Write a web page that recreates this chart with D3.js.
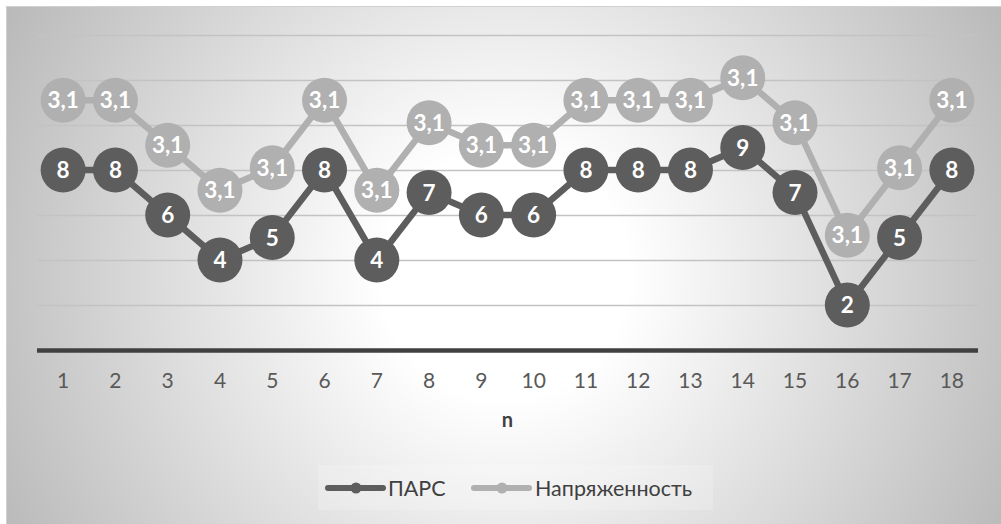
<!DOCTYPE html>
<html>
<head>
<meta charset="utf-8">
<script src="https://cdn.jsdelivr.net/npm/d3@7"></script>
<style>
  html, body { margin: 0; padding: 0; background: #ffffff; }
  svg { display: block; }
  text { font-family: "Lato", "Open Sans", sans-serif; }
</style>
</head>
<body>
<svg id="chart" width="1001" height="524"></svg>
<script>
// Observation number n (category axis)
const categories = ["1","2","3","4","5","6","7","8","9","10","11","12","13","14","15","16","17","18"];

// ПАРС scores (primary axis)
const parsValues = [8, 8, 6, 4, 5, 8, 4, 7, 6, 6, 8, 8, 8, 9, 7, 2, 5, 8];

// Напряженность index (secondary axis, all round to 3,1)
const tensionValues = [3.131, 3.131, 3.111, 3.091, 3.101, 3.131, 3.091, 3.121, 3.111,
                       3.111, 3.131, 3.131, 3.131, 3.141, 3.121, 3.071, 3.101, 3.131];

const seriesNames = ["ПАРС", "Напряженность"];
const primaryTicks = [0, 2, 4, 6, 8, 10, 12, 14];
const secondaryDomain = [3.02, 3.16];
const axisTitle = "n";

const W = 1001, H = 524;
const plot = { left: 37, right: 978, top: 35, bottom: 350 };

const svg = d3.select("#chart");

// Background: radial grey fill with a thin frame
const defs = svg.append("defs");
const grad = defs.append("radialGradient")
  .attr("id", "bgGrad")
  .attr("gradientUnits", "userSpaceOnUse")
  .attr("cx", 505).attr("cy", 275).attr("r", 560);
grad.append("stop").attr("offset", "0.22").attr("stop-color", "#ffffff");
grad.append("stop").attr("offset", "1").attr("stop-color", "#bababa");

svg.append("rect")
  .attr("x", 6.5).attr("y", 6.5)
  .attr("width", W).attr("height", H)
  .attr("fill", "url(#bgGrad)")
  .attr("stroke", "#d0d0d0").attr("stroke-width", 1);

// Scales
const x = d3.scaleBand().domain(categories).range([plot.left, plot.right]).padding(0);
const cx = d => x(d) + x.bandwidth() / 2;
const y = d3.scaleLinear().domain([0, 14]).range([plot.bottom, plot.top]);
const y2 = d3.scaleLinear().domain(secondaryDomain).range([plot.bottom, plot.top]);

// Horizontal gridlines
const grid = svg.append("g")
  .attr("transform", `translate(${plot.left},0)`)
  .call(d3.axisLeft(y).tickValues(primaryTicks.slice(1)).tickSize(-(plot.right - plot.left)).tickFormat(""));
grid.select(".domain").remove();
grid.selectAll(".tick line").attr("stroke", "#c3c3c3").attr("stroke-width", 1.3);

// Category axis
const xAxis = svg.append("g")
  .attr("transform", `translate(0,${plot.bottom})`)
  .call(d3.axisBottom(x).tickSize(0).tickPadding(23));
xAxis.select(".domain").remove();
xAxis.selectAll(".tick text")
  .attr("fill", "#595959")
  .style("font-size", "21px")
  .style("font-family", "Lato, sans-serif");

svg.append("line")
  .attr("x1", plot.left).attr("x2", plot.right)
  .attr("y1", y(0) + 0.5).attr("y2", y(0) + 0.5)
  .attr("stroke", "#404040").attr("stroke-width", 4.5);

svg.append("text")
  .attr("x", (plot.left + plot.right) / 2).attr("y", 427)
  .attr("text-anchor", "middle")
  .attr("fill", "#404040")
  .style("font-size", "20px").style("font-weight", "700")
  .text(axisTitle);

// Series
const fmt = v => d3.format(".1f")(v).replace(".", ",");
const series = [
  { name: seriesNames[0], values: parsValues, scale: y, color: "#5d5d5d", label: v => String(v) },
  { name: seriesNames[1], values: tensionValues, scale: y2, color: "#b0b0b0", label: fmt }
];

const R = 22.5;
series.forEach(s => {
  const pts = s.values.map((v, i) => ({ c: categories[i], v }));
  const line = d3.line().x(d => cx(d.c)).y(d => s.scale(d.v));
  const g = svg.append("g");
  g.append("path")
    .attr("d", line(pts))
    .attr("fill", "none")
    .attr("stroke", s.color)
    .attr("stroke-width", 6.5)
    .attr("stroke-linejoin", "round");
  g.selectAll("circle").data(pts).join("circle")
    .attr("cx", d => cx(d.c)).attr("cy", d => s.scale(d.v))
    .attr("r", R).attr("fill", s.color);
  g.selectAll("text").data(pts).join("text")
    .attr("x", d => cx(d.c)).attr("y", d => s.scale(d.v))
    .attr("dy", "0.36em")
    .attr("text-anchor", "middle")
    .attr("fill", "#ffffff")
    .style("font-size", "22.5px").style("font-weight", "700")
    .text(d => s.label(d.v));
});

// Legend
const legend = svg.append("g");
legend.append("rect")
  .attr("x", 318).attr("y", 465).attr("width", 395).attr("height", 45)
  .attr("fill", "#ffffff").attr("opacity", 0.18);
const legendItems = [
  { name: series[0].name, color: series[0].color, x0: 328, tx: 388 },
  { name: series[1].name, color: series[1].color, x0: 474, tx: 535 }
];
legendItems.forEach(it => {
  legend.append("line")
    .attr("x1", it.x0).attr("x2", it.x0 + 55)
    .attr("y1", 488).attr("y2", 488)
    .attr("stroke", it.color).attr("stroke-width", 6).attr("stroke-linecap", "round");
  legend.append("circle")
    .attr("cx", it.x0 + 28).attr("cy", 488).attr("r", 5.5).attr("fill", it.color);
  legend.append("text")
    .attr("x", it.tx).attr("y", 488).attr("dy", "0.36em")
    .attr("fill", "#404040")
    .style("font-size", "21.5px")
    .text(it.name);
});
</script>
</body>
</html>
